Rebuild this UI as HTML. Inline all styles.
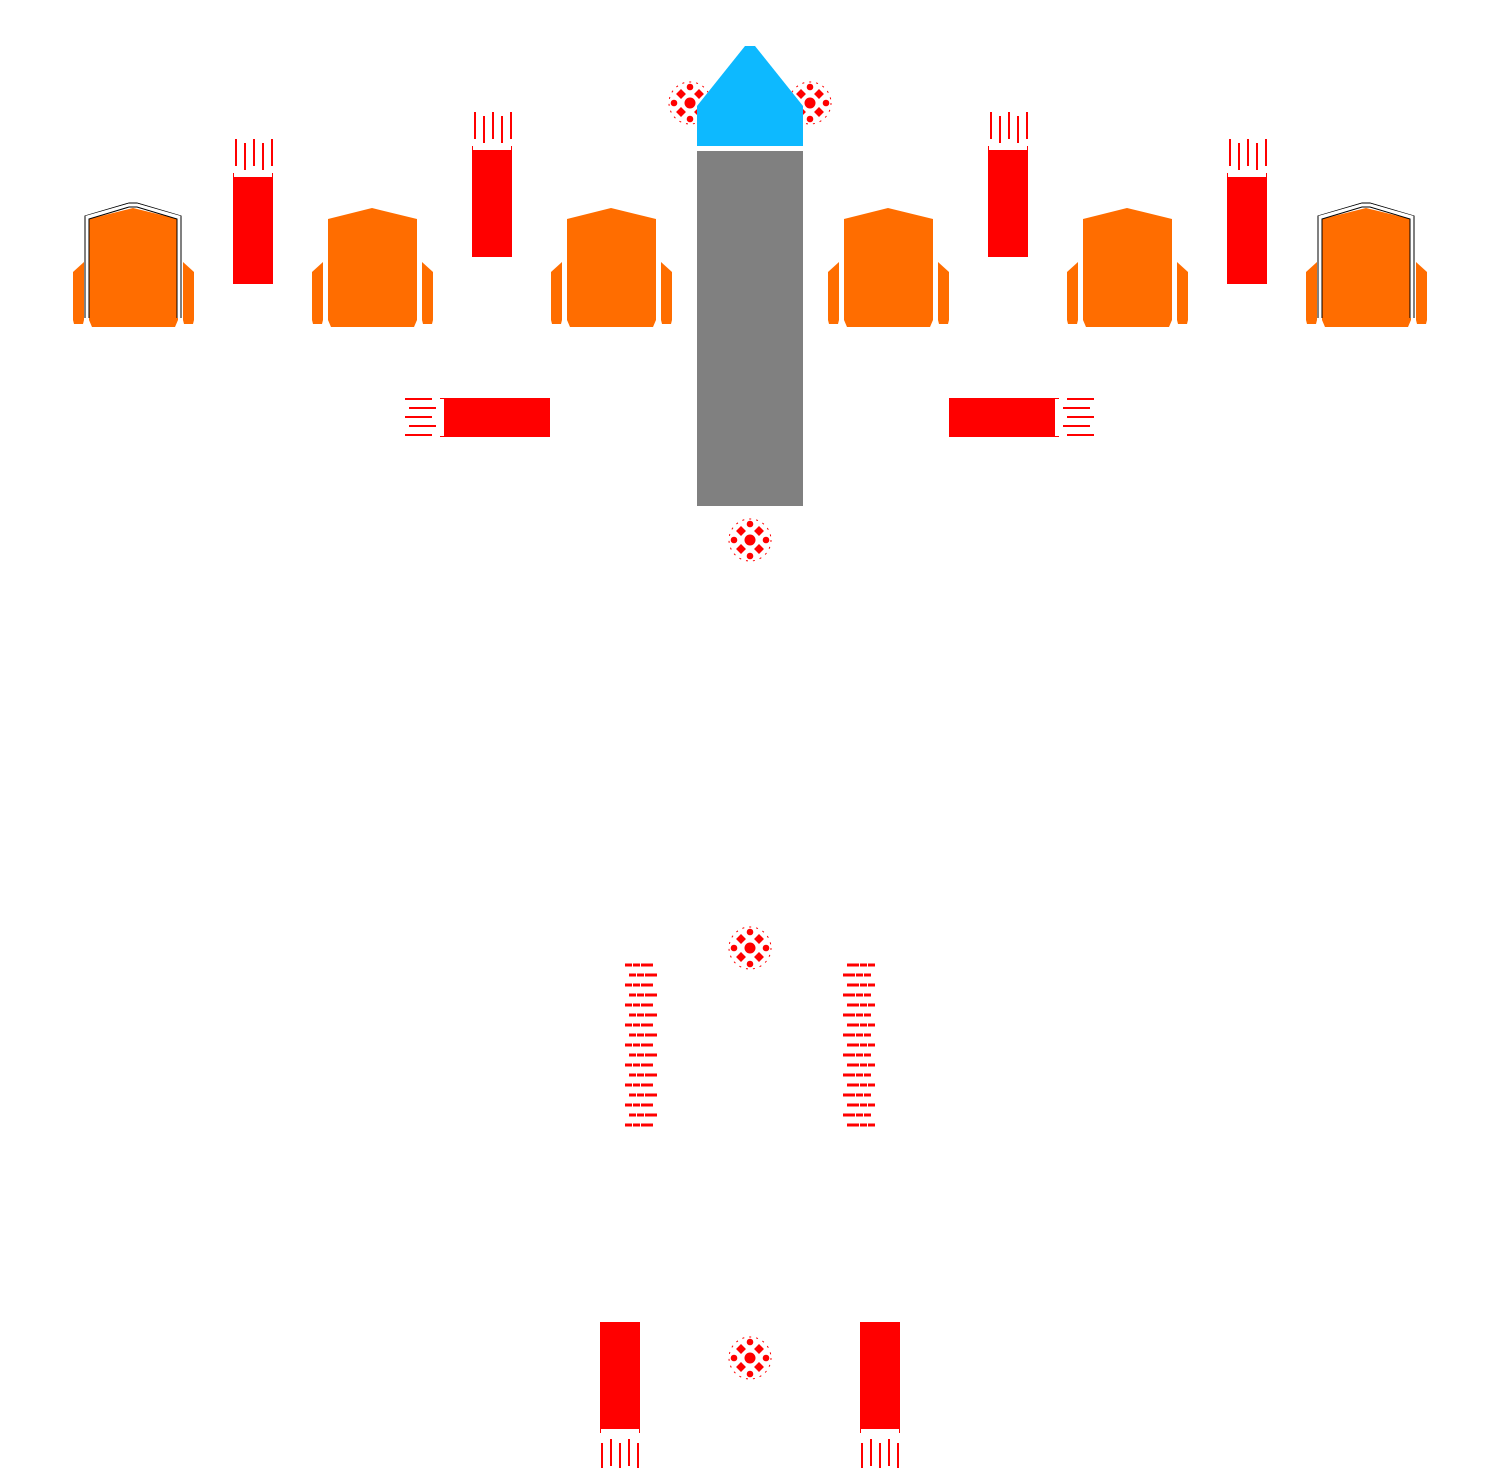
<!DOCTYPE html>
<html><head><style>html,body{margin:0;padding:0;background:#fff}svg{display:block}</style></head>
<body>
<svg width="1500" height="1468" viewBox="0 0 1500 1468" xmlns="http://www.w3.org/2000/svg">
<defs>
<g id="chair" fill="#ff6d00">
  <path d="M-44,219 L0,208 L45,219 L45,320 L42,327 L-41,327 L-44,320 Z"/>
  <path d="M-60,272 L-49,262 L-49,320 L-50,324 L-59,324 L-60,320 Z"/>
  <path d="M61,272 L50,262 L50,320 L51,324 L60,324 L61,320 Z"/>
</g>
<g id="frame">
  <path d="M-48,318 L-48,216 L-4,203 L4,203 L48,216 L48,318" fill="none" stroke="#000" stroke-width="1"/>
  <path d="M-46,318 L-46,217 L-4,205 L4,205 L46,217 L46,318" fill="none" stroke="#fff" stroke-width="3"/>
  <path d="M-44,318 L-44,219 L-4,207 L4,207 L44,219 L44,318" fill="none" stroke="#000" stroke-width="1"/>
</g>
<g id="dot" fill="#f00">
  <circle r="21" fill="none" stroke="#f00" stroke-width="1" stroke-dasharray="2 5"/>
  <circle r="5.5"/>
  <rect x="-3.5" y="-3.5" width="7" height="7" transform="translate(-9,-9) rotate(45)"/>
  <rect x="-3.5" y="-3.5" width="7" height="7" transform="translate(9,-9) rotate(45)"/>
  <rect x="-3.5" y="-3.5" width="7" height="7" transform="translate(-9,9) rotate(45)"/>
  <rect x="-3.5" y="-3.5" width="7" height="7" transform="translate(9,9) rotate(45)"/>
  <circle cx="0" cy="-16" r="3.3"/><circle cx="0" cy="16" r="3.3"/>
  <circle cx="-16" cy="0" r="3.3"/><circle cx="16" cy="0" r="3.3"/>
</g>
<g id="vbar">
  <rect x="0" y="0" width="40" height="107" fill="#f00"/>
  <path d="M0.5,-4 V0 M39.5,-4 V0" stroke="#f00" stroke-width="1"/>
  <path d="M3,-38 V-11 M12,-34 V-7 M21,-38 V-11 M30,-34 V-7 M39,-38 V-11" stroke="#f00" stroke-width="2"/>
</g>
<g id="vbarB">
  <rect x="0" y="0" width="40" height="107" fill="#f00"/>
  <path d="M0.5,107 V111 M39.5,107 V111" stroke="#f00" stroke-width="1"/>
  <path d="M2,121 V148 M11,117 V144 M20,121 V148 M29,117 V144 M38,121 V148" stroke="#f00" stroke-width="2"/>
</g>
<g id="hbar">
  <rect x="0" y="0" width="106" height="39" fill="#f00"/>
  <path d="M-4,0.5 H0 M-4,38.5 H0" stroke="#f00" stroke-width="1"/>
  <path d="M-39,1 H-12 M-35,10 H-8 M-39,19 H-12 M-35,28 H-8 M-39,37 H-12" stroke="#f00" stroke-width="2"/>
</g>
</defs>

<use href="#chair" x="133" y="0"/><use href="#frame" x="133" y="0"/>
<use href="#chair" x="372" y="0"/>
<use href="#chair" x="611" y="0"/>
<use href="#chair" x="888" y="0"/>
<use href="#chair" x="1127" y="0"/>
<use href="#chair" x="1366" y="0"/><use href="#frame" x="1366" y="0"/>

<use href="#vbar" x="233" y="177"/>
<use href="#vbar" x="472" y="150"/>
<use href="#vbar" x="988" y="150"/>
<use href="#vbar" x="1227" y="177"/>

<use href="#hbar" x="444" y="398"/>
<use href="#hbar" transform="translate(1055,398) scale(-1,1)"/>

<use href="#dot" x="690" y="103"/>
<use href="#dot" x="810" y="103"/>

<rect x="697" y="151" width="106" height="355" fill="#808080"/>
<path d="M697,106 L745,46 L755,46 L803,106 L803,146 L697,146 Z" fill="#0db9ff"/>

<use href="#dot" x="750" y="540"/>
<use href="#dot" x="750" y="948"/>
<use href="#dot" x="750" y="1358"/>

<g stroke="#f00" stroke-width="3">
  <path d="M625,965h7m1,0h7m1,0h12 M629,975h7m1,0h7m1,0h12 M625,985h7m1,0h7m1,0h12 M629,995h7m1,0h7m1,0h12 M625,1005h7m1,0h7m1,0h12 M629,1015h7m1,0h7m1,0h12 M625,1025h7m1,0h7m1,0h12 M629,1035h7m1,0h7m1,0h12 M625,1045h7m1,0h7m1,0h12 M629,1055h7m1,0h7m1,0h12 M625,1065h7m1,0h7m1,0h12 M629,1075h7m1,0h7m1,0h12 M625,1085h7m1,0h7m1,0h12 M629,1095h7m1,0h7m1,0h12 M625,1105h7m1,0h7m1,0h12 M629,1115h7m1,0h7m1,0h12 M625,1125h7m1,0h7m1,0h12"/>
  <path d="M847,965h12m1,0h7m1,0h7 M843,975h12m1,0h7m1,0h7 M847,985h12m1,0h7m1,0h7 M843,995h12m1,0h7m1,0h7 M847,1005h12m1,0h7m1,0h7 M843,1015h12m1,0h7m1,0h7 M847,1025h12m1,0h7m1,0h7 M843,1035h12m1,0h7m1,0h7 M847,1045h12m1,0h7m1,0h7 M843,1055h12m1,0h7m1,0h7 M847,1065h12m1,0h7m1,0h7 M843,1075h12m1,0h7m1,0h7 M847,1085h12m1,0h7m1,0h7 M843,1095h12m1,0h7m1,0h7 M847,1105h12m1,0h7m1,0h7 M843,1115h12m1,0h7m1,0h7 M847,1125h12m1,0h7m1,0h7"/>
</g>

<use href="#vbarB" x="600" y="1322"/>
<use href="#vbarB" x="860" y="1322"/>
</svg>
</body></html>
